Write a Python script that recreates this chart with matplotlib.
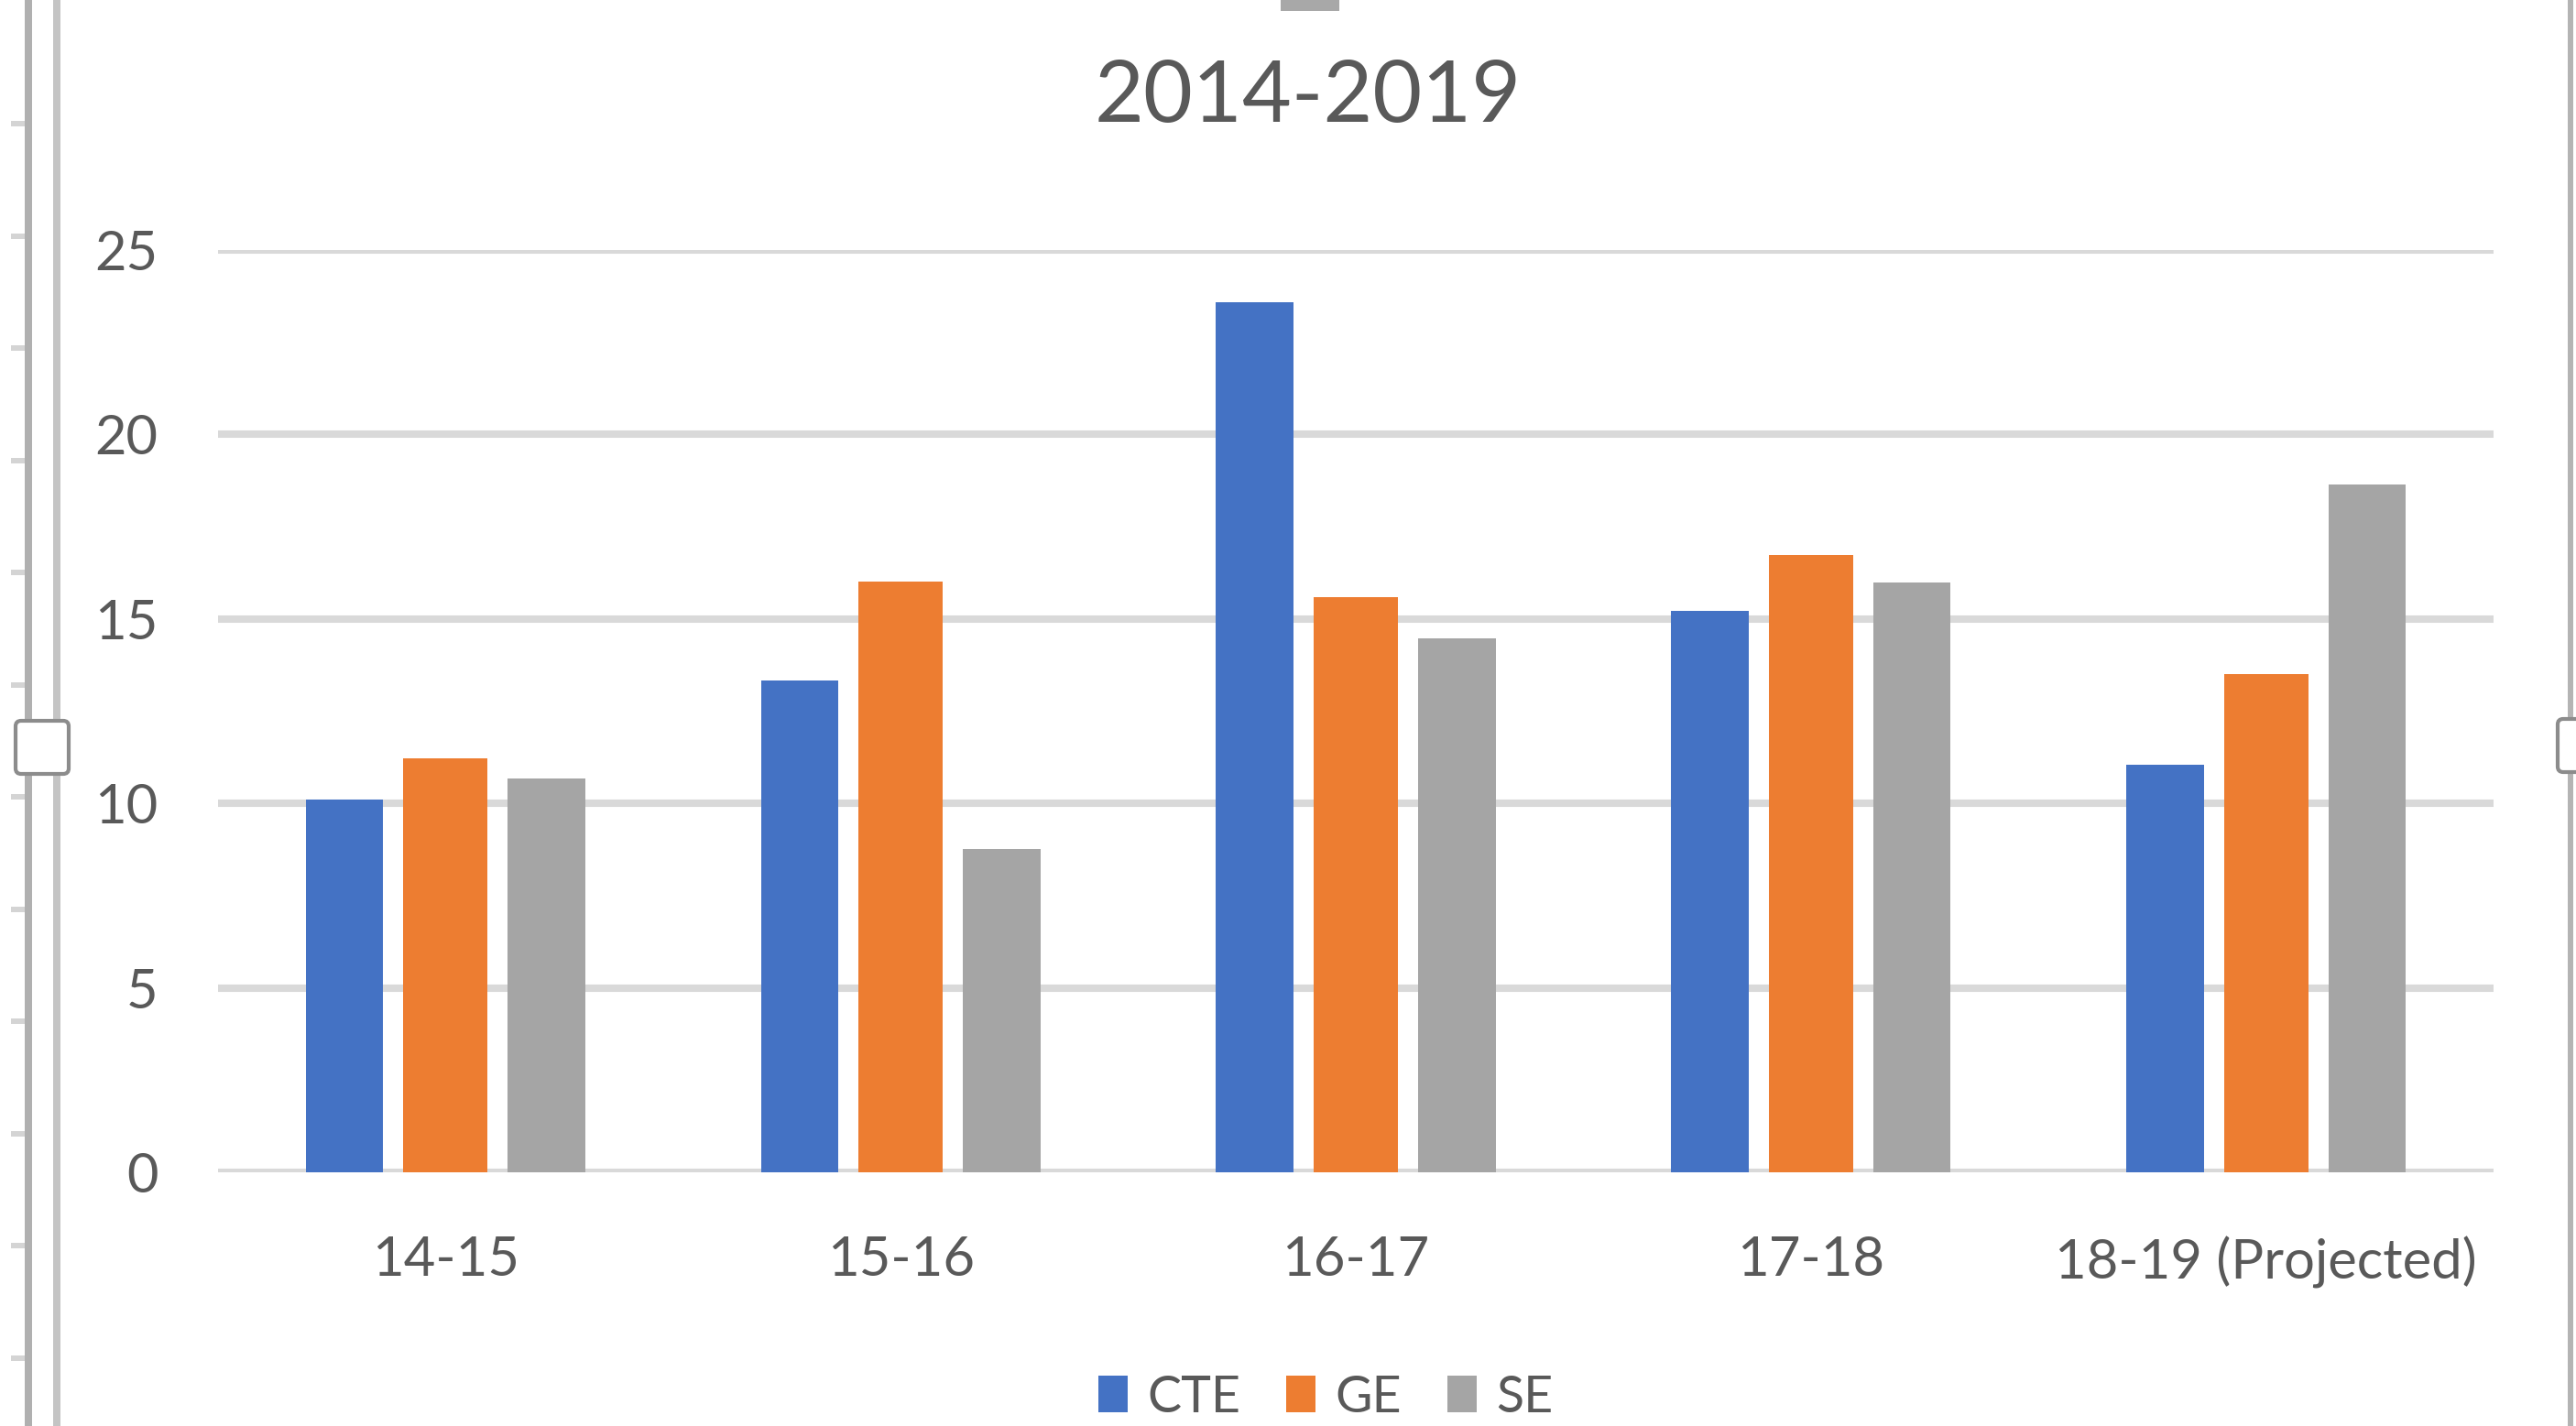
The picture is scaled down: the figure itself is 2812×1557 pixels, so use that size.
import numpy as np
import matplotlib
matplotlib.use('Agg')
import matplotlib.pyplot as plt
from matplotlib.patches import FancyBboxPatch, Rectangle

plt.rcParams['font.family'] = ['Lato', 'DejaVu Sans']

# data
categories = ['14-15', '15-16', '16-17', '17-18', '18-19 (Projected)']
series_names = ['CTE', 'GE', 'SE']
cte = [10.1, 13.33, 23.58, 15.21, 11.04]
ge = [11.22, 16.0, 15.59, 16.73, 13.5]
se = [10.67, 8.76, 14.47, 15.98, 18.64]
y_ticks = [0, 5, 10, 15, 20, 25]

colors = ['#4472c4', '#ed7d31', '#a5a5a5']
text_color = '#595959'
grid_color = '#d9d9d9'

W, H = 2812, 1557
fig = plt.figure(figsize=(W / 100, H / 100), dpi=100)
fig.patch.set_facecolor('white')

# screenshot frame (Excel selection handles) drawn in pixel coordinates
deco = fig.add_axes([0, 0, 1, 1], zorder=0)
deco.set_xlim(0, W)
deco.set_ylim(H, 0)
deco.axis('off')
deco.add_patch(Rectangle((27, 0), 8, H, color='#b0b0b0', lw=0))
deco.add_patch(Rectangle((58, 0), 8, H, color='#c4c4c4', lw=0))
deco.add_patch(Rectangle((2803, 0), 6, H, color='#b4b4b4', lw=0))
for k in range(12):
    deco.add_patch(Rectangle((12, 132 + k * 122.5), 15, 6, color='#d4d4d4', lw=0))
deco.add_patch(FancyBboxPatch((17, 787), 58, 58, boxstyle='round,pad=0,rounding_size=6',
                              fc='white', ec='#8c8c8c', lw=3))
deco.add_patch(FancyBboxPatch((2792, 785), 40, 58, boxstyle='round,pad=0,rounding_size=6',
                              fc='white', ec='#8c8c8c', lw=3))
deco.add_patch(Rectangle((1398, 0), 64, 12, color='#a8a8a8', lw=0))

ax = fig.add_axes([238 / W, 1 - 1280 / H, (2722 - 238) / W, (1280 - 272.7) / H], zorder=1)
ax.patch.set_alpha(0)

x = np.arange(len(categories))
offsets = [-0.222, 0.0, 0.222]
widths = [0.17, 0.185, 0.17]
for vals, off, w, c, name in zip([cte, ge, se], offsets, widths, colors, series_names):
    ax.bar(x + off, vals, width=w, color=c, label=name, zorder=3, linewidth=0)

ax.set_xlim(-0.5, len(categories) - 0.5)
ax.set_ylim(0, 25)
ax.set_yticks(y_ticks)
ax.set_xticks(x)
ax.set_xticklabels(categories)
ax.yaxis.grid(True, color=grid_color, linewidth=5.8, zorder=0)
ax.set_axisbelow(True)
for s in ax.spines.values():
    s.set_visible(False)
ax.tick_params(axis='both', length=0, labelsize=43, colors=text_color)
ax.tick_params(axis='y', pad=47)
ax.tick_params(axis='x', pad=50)

fig.text(1428 / W, 1 - 107 / H, '2014-2019', ha='center', va='center',
         fontsize=67, color=text_color)

fig.legend(loc='center', bbox_to_anchor=(1447 / W, 1 - 1526 / H), ncol=3,
           frameon=False, fontsize=40, labelcolor=text_color,
           handlelength=0.58, handleheight=0.72, handletextpad=0.38,
           columnspacing=0.9)

fig.savefig('out.png', dpi=100)
